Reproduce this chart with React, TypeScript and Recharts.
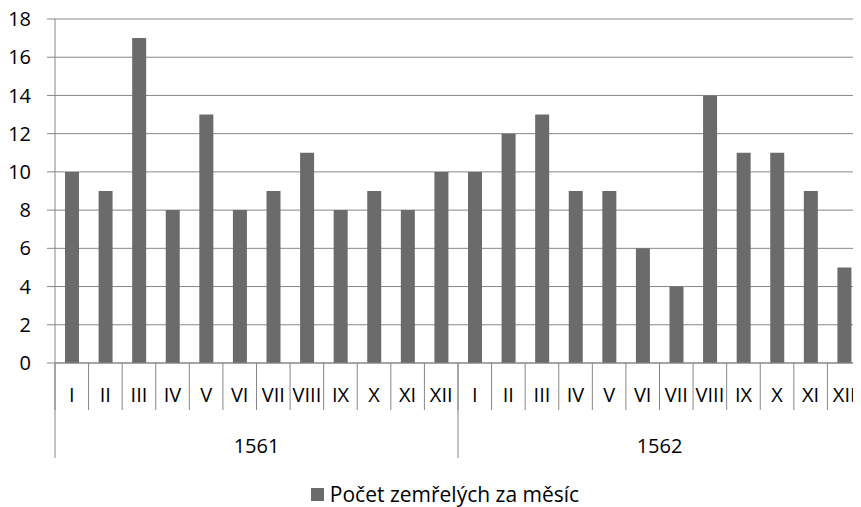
import React from "react";
import { BarChart, Bar, XAxis, YAxis, CartesianGrid, Legend } from "recharts";

const months = ["I", "II", "III", "IV", "V", "VI", "VII", "VIII", "IX", "X", "XI", "XII"];
const years = ["1561", "1562"];
const deaths1561 = [10, 9, 17, 8, 13, 8, 9, 11, 8, 9, 8, 10];
const deaths1562 = [10, 12, 13, 9, 9, 6, 4, 14, 11, 11, 9, 5];
const yTicks = [0, 2, 4, 6, 8, 10, 12, 14, 16, 18];

const seriesName = "Počet zemřelých za měsíc";

const data = [
  ...months.map((m, i) => ({ month: m, year: years[0], deaths: deaths1561[i] })),
  ...months.map((m, i) => ({ month: m, year: years[1], deaths: deaths1562[i] })),
];

const W = 861;
const H = 507;
const PLOT_LEFT = 55;
const BAND = (W - PLOT_LEFT) / data.length;
const MONTH_H = 47;
const YEAR_H = 48;
const LEGEND_H = 26;
const GRID = "#878787";
const BAR = "#6b6b6b";
const FONT = "'Open Sans', sans-serif";

function MonthTick(props: any) {
  const { x, y, payload } = props;
  const left = x - BAND / 2;
  return (
    <g>
      <line x1={left} x2={left} y1={y} y2={y + MONTH_H} stroke={GRID} />
      <text x={x} y={y + 39} textAnchor="middle" fontSize={20} fill="#000" fontFamily={FONT}>
        {payload.value}
      </text>
    </g>
  );
}

function YearTick(props: any) {
  const { x, y, index, payload } = props;
  const pos = index % months.length;
  if (pos === 0) {
    const left = x - BAND / 2;
    return <line x1={left} x2={left} y1={y - MONTH_H} y2={y + YEAR_H} stroke={GRID} />;
  }
  if (pos === 5) {
    return (
      <text x={x + BAND / 2} y={y + 43} textAnchor="middle" fontSize={20} fill="#000" fontFamily={FONT}>
        {payload.value}
      </text>
    );
  }
  return <g />;
}

function LegendContent() {
  return (
    <div
      style={{
        display: "flex",
        justifyContent: "center",
        alignItems: "center",
        height: LEGEND_H,
        fontFamily: FONT,
        fontSize: 21,
        paddingLeft: 29,
      }}
    >
      <span style={{ display: "inline-block", width: 13, height: 13, background: BAR, marginRight: 6 }} />
      <span>{seriesName}</span>
    </div>
  );
}

export default function App() {
  return (
    <div style={{ margin: "-8px -8px 0 -8px", width: W, height: H, background: "#fff" }}>
      <BarChart
        width={W}
        height={H}
        data={data}
        margin={{ top: 19, right: 0, left: 0, bottom: 0 }}
        barSize={14}
      >
        <CartesianGrid vertical={false} stroke={GRID} />
        <XAxis
          dataKey="month"
          height={MONTH_H}
          tickLine={false}
          tickSize={0}
          tickMargin={0}
          axisLine={{ stroke: GRID }}
          interval={0}
          tick={<MonthTick />}
        />
        <XAxis
          xAxisId="year"
          dataKey="year"
          height={H - 19 - 344 - MONTH_H - LEGEND_H}
          tickLine={false}
          tickSize={0}
          tickMargin={0}
          axisLine={false}
          interval={0}
          tick={<YearTick />}
        />
        <YAxis
          width={PLOT_LEFT}
          domain={[0, 18]}
          ticks={yTicks}
          interval={0}
          tickSize={8}
          tickMargin={16}
          tickLine={{ stroke: GRID }}
          axisLine={{ stroke: GRID }}
          tick={{ fill: "#000", fontSize: 20, fontFamily: FONT }}
        />
        <Legend verticalAlign="bottom" height={LEGEND_H} content={<LegendContent />} />
        <Bar dataKey="deaths" name={seriesName} fill={BAR} isAnimationActive={false} />
      </BarChart>
    </div>
  );
}
